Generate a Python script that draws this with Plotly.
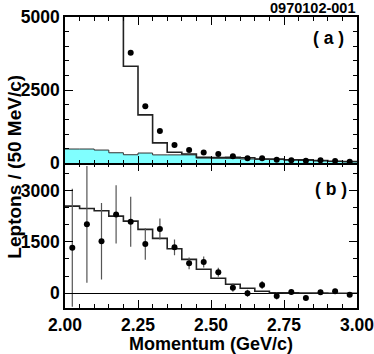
import numpy as np
import plotly.graph_objects as go

# 20 bins of 50 MeV/c from 2.00 to 3.00 GeV/c
bin_lo = 2.00
bin_hi = 3.00
n_bins = 20

# (a) data points, total MC histogram and background (cyan)
data_a = [None, None, None, None, 3780, 1950, 1110, 630, 460, 370,
          320, 240, 171, 171, 126, 103, 91, 103, 80, 57]
mc_a = [9000, 9000, 9000, 9000, 3320, 1655, 700, 380, 318, 205,
        195, 205, 190, 150, 150, 125, 120, 100, 75, 65]
bkg_a = [490, 490, 455, 363, 295, 353, 290, 290, 290, 185,
         180, 172, 150, 140, 130, 110, 100, 85, 68, 55]

# (b) background-subtracted data with errors, and signal MC
data_b = [1330, 2010, 1520, 2300, 2086, 1436, 1873, 1340, 874, 912,
          611, 163, 0, 242, -79, 38, -137, 29, 58, -41]
err_b = [1720, 1700, 1115, 850, 730, 460, 305, 230, 170, 160,
         130, 120, 100, 115, 100, 80, 80, 70, 70, 60]
mc_b = [2543, 2475, 2406, 2251, 2106, 1864, 1602, 1299, 990, 699,
        437, 262, 146, 58, 17, 10, 6, 4, 2, 0]

edges = np.linspace(bin_lo, bin_hi, n_bins + 1)
centers = 0.5 * (edges[:-1] + edges[1:])


def steps(vals):
    # repeat last value so the 'hv' step reaches the right edge
    return list(vals) + [vals[-1]]


BOLD = dict(family='Liberation Sans, Arial, sans-serif', size=17.5, color='black', weight='bold')

fig = go.Figure()

# ---- panel (a)
fig.add_trace(go.Scatter(x=edges, y=steps(bkg_a), xaxis='x2', yaxis='y2',
                         mode='lines', line=dict(shape='hv', color='#333333', width=1),
                         fill='tozeroy', fillcolor='#80ffff', showlegend=False))
fig.add_trace(go.Scatter(x=edges, y=steps(mc_a), xaxis='x2', yaxis='y2',
                         mode='lines', line=dict(shape='hv', color='#222222', width=1.6),
                         showlegend=False))
fig.add_trace(go.Scatter(x=centers, y=data_a, xaxis='x2', yaxis='y2',
                         mode='markers', marker=dict(color='black', size=6),
                         showlegend=False))

# ---- panel (b)
fig.add_trace(go.Scatter(x=edges, y=steps(mc_b), xaxis='x', yaxis='y',
                         mode='lines', line=dict(shape='hv', color='#222222', width=1.6),
                         showlegend=False))
fig.add_trace(go.Scatter(x=centers, y=data_b, xaxis='x', yaxis='y',
                         mode='markers', marker=dict(color='black', size=6),
                         error_y=dict(type='data', array=err_b, color='#555555',
                                      thickness=1.2, width=0),
                         showlegend=False))

axis_common = dict(showline=True, linecolor='black', linewidth=1.5, mirror='allticks',
                   ticks='inside', ticklen=8, tickwidth=1.2, tickcolor='black',
                   showgrid=False, zeroline=False, tickfont=BOLD, automargin=False,
                   ticklabeloverflow='allow')

fig.update_layout(
    template='none',
    width=374, height=354,
    margin=dict(l=65, r=17, t=17, b=46),
    plot_bgcolor='white', paper_bgcolor='white',
    xaxis=dict(axis_common, range=[bin_lo, bin_hi], anchor='y',
               tickvals=[2.0, 2.25, 2.5, 2.75, 3.0], tickformat='.2f',
               minor=dict(ticks='inside', dtick=0.05, ticklen=4, tickcolor='black'),
               title=dict(text='Momentum (GeV/c)', font=dict(BOLD, size=18), standoff=0)),
    xaxis2=dict(axis_common, range=[bin_lo, bin_hi], anchor='y2', matches='x',
                tickvals=[2.0, 2.25, 2.5, 2.75, 3.0], showticklabels=False,
                minor=dict(ticks='inside', dtick=0.05, ticklen=4, tickcolor='black')),
    yaxis=dict(axis_common, domain=[0, 0.497], range=[-430, 3790],
               tickvals=[0, 1500, 3000],
               minor=dict(ticks='inside', dtick=500, ticklen=4, tickcolor='black'),
               zeroline=True, zerolinecolor='black', zerolinewidth=1),
    yaxis2=dict(axis_common, domain=[0.497, 1], range=[0, 5000],
                tickvals=[0, 2500, 5000],
                minor=dict(ticks='inside', dtick=500, ticklen=4, tickcolor='black')),
    annotations=[
        dict(text='( a )', x=0.902, y=0.928, xref='paper', yref='paper',
             xanchor='center', yanchor='middle', showarrow=False, font=BOLD),
        dict(text='( b )', x=0.91, y=0.41, xref='paper', yref='paper',
             xanchor='center', yanchor='middle', showarrow=False, font=BOLD),
        dict(text='0970102-001', x=1.0, y=1.0, xref='paper', yref='paper',
             xanchor='right', yanchor='bottom', yshift=-1, showarrow=False,
             font=dict(BOLD, size=14.5)),
        dict(text='Leptons / (50 MeV/c)', x=-0.171, y=0.486, xref='paper', yref='paper',
             xanchor='center', yanchor='middle',
             textangle=-90, showarrow=False, font=dict(BOLD, size=19)),
    ],
)

# drop the default 8px page margin so the figure sits at the window corner
fig.write_html("out.html", config={'displayModeBar': False},
               post_script="document.body.style.margin='0';")
